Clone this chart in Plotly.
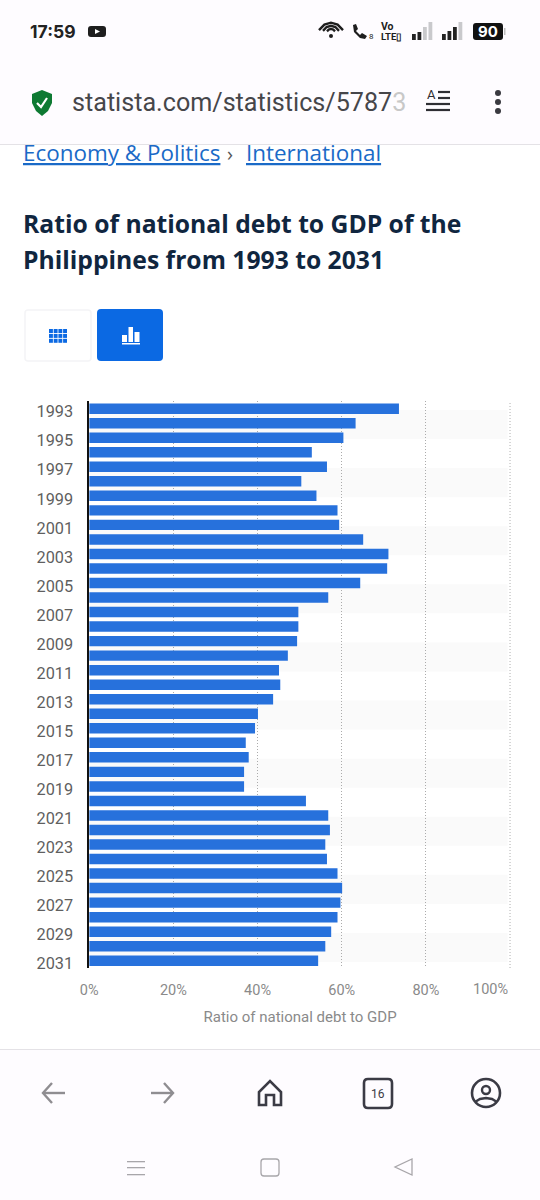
import plotly.graph_objects as go

years = [str(y) for y in range(1993, 2032)]
ratio = [73.6, 63.3, 60.4, 52.9, 56.5, 50.4, 54.0, 59.0, 59.4, 65.1,
         71.1, 70.8, 64.4, 56.8, 49.7, 49.7, 49.4, 47.2, 45.1, 45.4,
         43.7, 40.1, 39.4, 37.2, 37.9, 36.8, 36.8, 51.5, 56.8, 57.2,
         56.1, 56.5, 59.0, 60.1, 59.7, 59.0, 57.5, 56.1, 54.4]
x_ticks = [0, 20, 40, 60, 80, 100]
x_tick_labels = ["0%", "20%", "40%", "60%", "80%", ""]
title_lines = ["Ratio of national debt to GDP of the", "Philippines from 1993 to 2031"]

W, H = 540, 1200
BLUE = "#2771DC"
GREY = "#8F8D91"
BAR_BG = "#FEFCFF"
GRID = "#ABABAB"


def px(x):
    return x / W


def py(y):
    return 1 - y / H


shapes = []
annotations = []


def rect(x0, y0, x1, y1, fill, line=None, lw=1, layer="above"):
    shapes.append(dict(type="rect", xref="paper", yref="paper", x0=px(x0), x1=px(x1), y0=py(y0), y1=py(y1),
                       fillcolor=fill, line=dict(color=line or fill, width=lw if line else 0), layer=layer))


def path(points, line=None, lw=1.5, fill=None, close=False):
    d = "M" + " L".join(f"{px(a):.5f},{py(b):.5f}" for a, b in points) + (" Z" if close else "")
    shapes.append(dict(type="path", xref="paper", yref="paper", path=d, fillcolor=fill or "rgba(0,0,0,0)",
                       line=dict(color=line or "rgba(0,0,0,0)", width=lw if line else 0), layer="above"))


def rrect(x0, y0, x1, y1, r, fill=None, line=None, lw=1.5):
    d = (f"M{px(x0+r):.5f},{py(y0):.5f} L{px(x1-r):.5f},{py(y0):.5f} "
         f"Q{px(x1):.5f},{py(y0):.5f} {px(x1):.5f},{py(y0+r):.5f} L{px(x1):.5f},{py(y1-r):.5f} "
         f"Q{px(x1):.5f},{py(y1):.5f} {px(x1-r):.5f},{py(y1):.5f} L{px(x0+r):.5f},{py(y1):.5f} "
         f"Q{px(x0):.5f},{py(y1):.5f} {px(x0):.5f},{py(y1-r):.5f} L{px(x0):.5f},{py(y0+r):.5f} "
         f"Q{px(x0):.5f},{py(y0):.5f} {px(x0+r):.5f},{py(y0):.5f} Z")
    shapes.append(dict(type="path", xref="paper", yref="paper", path=d, fillcolor=fill or "rgba(0,0,0,0)",
                       line=dict(color=line or "rgba(0,0,0,0)", width=lw if line else 0), layer="above"))


def circle(cx, cy, r, fill=None, line=None, lw=1.5):
    shapes.append(dict(type="circle", xref="paper", yref="paper", x0=px(cx-r), x1=px(cx+r), y0=py(cy-r), y1=py(cy+r),
                       fillcolor=fill or "rgba(0,0,0,0)",
                       line=dict(color=line or "rgba(0,0,0,0)", width=lw if line else 0), layer="above"))


def label(x, y, text, size, color, family="Roboto", anchor="left"):
    annotations.append(dict(x=px(x - 1 if anchor == "left" else x), y=py(y), xref="paper", yref="paper", text=text,
                            showarrow=False, xanchor=anchor, yanchor="middle", borderpad=0,
                            font=dict(size=size, color=color, family=family)))


# stripes behind the bars (category-index units)
for k in range(10):
    shapes.append(dict(type="rect", xref="x", yref="y", x0=0, x1=99.4, y0=0.09 + 4 * k, y1=2.09 + 4 * k,
                       fillcolor="#FAFAFA", line=dict(width=0), layer="below"))
# closing dotted gridline at the right edge of the scale
shapes.append(dict(type="line", xref="x", yref="paper", x0=100, x1=100, y0=py(968), y1=py(401.4),
                   line=dict(color=GRID, width=1, dash="1px,2px"), layer="below"))

# top browser chrome
rect(0, 0, 540, 144, BAR_BG)
rect(0, 144, 540, 145, "#E4E2E6")
label(30, 31, "<b>17:59</b>", 17.5, "#222222", "Inter")
rrect(88, 26, 106, 37, 3, fill="#1E1E1E")
path([(95, 29), (95, 34), (100, 31.5)], fill="#FFFFFF", close=True)
# wifi
for r, w in [(12, 2.4), (8, 2.4), (4, 2.4)]:
    path([(331 - r, 32 - r * 0.15), (331 - r * 0.55, 32 - r * 0.62), (331, 32 - r * 0.78),
          (331 + r * 0.55, 32 - r * 0.62), (331 + r, 32 - r * 0.15)], line="#1E1E1E", lw=w)
circle(331, 36, 2, fill="#1E1E1E")
path([(353, 25), (356, 24), (358, 29), (356, 31), (360, 35), (362, 33), (367, 36), (365, 39), (360, 38), (354, 32)],
     fill="#1E1E1E", close=True)
label(369, 36, "8", 8, "#1E1E1E")
label(381, 26, "<b>Vo</b>", 10.5, "#1E1E1E")
label(381, 36, "<b>LTE▯</b>", 9.5, "#1E1E1E")
for x0, seq in [(412, [(6, "#222"), (8, "#222"), (13, "#C9C9CC"), (18, "#C9C9CC")]),
                (442, [(6, "#222"), (9, "#222"), (13, "#222"), (18, "#C9C9CC")])]:
    for i, (h, c) in enumerate(seq):
        rect(x0 + i * 5.5, 40 - h, x0 + i * 5.5 + 3.8, 40, c)
rrect(473, 23, 503, 40, 3, fill="#111111")
rect(504, 28, 505.5, 35, "#BDBDBD")
label(488, 31.5, "<b>90</b>", 15, "#FFFFFF", "Inter", "center")

# url row
path([(42, 90), (52, 94), (52, 103), (48, 111), (42, 116), (36, 111), (32, 103), (32, 94)], fill="#0E7A33", close=True)
path([(37, 103), (41, 107), (47, 98)], line="#FFFFFF", lw=2.2)
label(72, 103, 'statista.com/statistics/5787<span style="color:#C8C8C8">3</span>', 25.15, "#46464A", "Roboto")
label(431, 95, "A", 13, "#2E2E33", "Roboto", "center")
for yy, x0 in [(92, 438), (98, 438), (104, 426), (110, 426)]:
    rect(x0, yy - 1.1, 450, yy + 1.1, "#2E2E33")
for yy in [93, 102, 111]:
    circle(498, yy, 3, fill="#3A3A40")

# breadcrumb + title
label(23, 153, "<u>Economy &amp; Politics</u>", 22.45, "#1A6AC7", "Open Sans")
label(227, 154, "›", 20, "#555555", "Open Sans")
label(246, 153, "<u>International</u>", 22.45, "#1A6AC7", "Open Sans")
label(23, 224, f"<b>{title_lines[0]}</b>", 24.7, "#10263F", "Open Sans")
label(23, 259, f"<b>{title_lines[1]}</b>", 24.7, "#10263F", "Open Sans")

# view buttons
rrect(25, 310, 91, 361, 3, fill="#FFFFFF", line="#F4F4F6", lw=1.5)
rrect(97, 309, 163, 361, 4, fill="#0B69E3")
for r_i in range(3):
    for c_i in range(4):
        rect(49 + c_i * 4.7, 329 + r_i * 4.9, 49 + c_i * 4.7 + 3.9, 329 + r_i * 4.9 + 4, "#0B69E3")
rect(122, 335, 127, 342, "#FFFFFF")
rect(128.5, 327, 133, 342, "#FFFFFF")
rect(134.5, 332, 139.5, 342, "#FFFFFF")
rect(122, 343, 140, 344.5, "#FFFFFF")

# bottom browser chrome
rect(0, 1049, 540, 1200, BAR_BG)
rect(0, 1049, 540, 1050, "#E4E2E6")
path([(65, 1093), (43, 1093)], line=GREY, lw=2.4)
path([(52, 1083), (43, 1093), (52, 1103)], line=GREY, lw=2.4)
path([(151, 1093), (173, 1093)], line=GREY, lw=2.4)
path([(164, 1083), (173, 1093), (164, 1103)], line=GREY, lw=2.4)
path([(259, 1105), (259, 1092), (270, 1081), (281, 1092), (281, 1105), (274, 1105), (274, 1095), (266, 1095), (266, 1105)],
     line="#3B3B45", lw=2.6, close=True)
rrect(364, 1079, 392, 1108, 4, line="#3B3B45", lw=2.6)
label(378, 1094, "16", 12, "#3B3B45", "Roboto", "center")
circle(486, 1093, 14, line="#3B3B45", lw=2.6)
circle(486, 1090, 4, line="#3B3B45", lw=2.4)
path([(475, 1102), (480, 1099), (486, 1098), (492, 1099), (497, 1102)], line="#3B3B45", lw=2.4)
for yy in [1161, 1167, 1174]:
    rect(127, yy, 145, yy + 1.3, "#A8A6AA")
rrect(261, 1159, 279, 1176, 3, line="#A8A6AA", lw=1.3)
path([(412, 1159), (412, 1175), (395, 1167)], line="#A8A6AA", lw=1.3, close=True)

# right-aligned last x tick
annotations.append(dict(x=100, y=py(989), xref="x", yref="paper", text="100%", showarrow=False,
                        xanchor="right", yanchor="middle", font=dict(size=14.5, color="#8A8A8A", family="Roboto")))

fig = go.Figure(go.Bar(x=ratio, y=years, orientation="h", marker=dict(color=BLUE, line=dict(width=0)),
                       hoverinfo="skip"))

fig.update_layout(
    width=W, height=H, margin=dict(l=0, r=0, t=0, b=0, autoexpand=False), autosize=False,
    paper_bgcolor="#FFFFFF", plot_bgcolor="#FFFFFF", showlegend=False, bargap=0.28,
    shapes=shapes, annotations=annotations,
    xaxis=dict(domain=[89.2 / W, 510.9 / W], range=[0, 100.2], tickmode="array", tickvals=x_ticks,
               ticktext=x_tick_labels, showgrid=True, gridcolor=GRID, griddash="1px,2px", gridwidth=1,
               zeroline=False, showline=False, ticks="", ticklabelstandoff=11,
               tickfont=dict(size=14.5, color="#8A8A8A", family="Roboto"),
               title=dict(text="Ratio of national debt to GDP", standoff=13,
                          font=dict(size=15, color="#8A8A8A", family="Roboto"))),
    yaxis=dict(domain=[1 - 968 / H, 1 - 401.4 / H], type="category", categoryorder="array", categoryarray=years,
               range=[38.5, -0.5], tickmode="array", tickvals=years[::2], showgrid=False, zeroline=False,
               showline=True, linecolor="#111111", linewidth=1.6, ticks="", ticklabelstandoff=11,
               ticklabelshift=-3,
               tickfont=dict(size=16.3, color="#5F5F5F", family="Roboto")),
)

fig.write_html("out.html", config=dict(displayModeBar=False),
               post_script="document.body.style.margin='0';")
